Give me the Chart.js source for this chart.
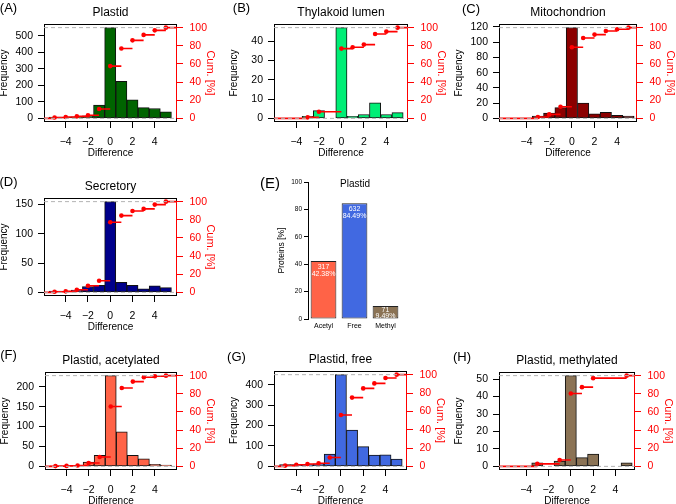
<!DOCTYPE html>
<html>
<head>
<meta charset="utf-8">
<script src="https://cdn.jsdelivr.net/npm/chart.js@4.4.1/dist/chart.umd.min.js"></script>
<style>
  body { margin: 0; background: #fff; width: 676px; height: 504px; position: relative; overflow: hidden;
         font-family: "Liberation Sans", Arial, sans-serif; }
  canvas { position: absolute; }
  .lbl { position: absolute; white-space: nowrap; line-height: 1; color: #000; transform: translate(-50%, -50%); }
</style>
</head>
<body>
<script>
// histogram bins (difference values)
const diffs = [-5, -4, -3, -2, -1, 0, 1, 2, 3, 4, 5];
const diffTicks = [-4, -2, 0, 2, 4];
const cumTicks = [0, 20, 40, 60, 80, 100];

// (A) Plastid
const plastidFreq = [8, 8, 10, 15, 80, 550, 225, 112, 65, 60, 40];
const plastidCumX = [-5, -4, -3, -2, -1, 0, 1, 2, 3, 4, 5];
const plastidCum = [1.0, 1.5, 2.2, 3.5, 10.3, 57.6, 77.0, 86.0, 92.0, 97.0, 100];
const plastidTicks = [0, 100, 200, 300, 400, 500];

// (B) Thylakoid lumen
const lumenFreq = [0, 0, 1, 4, 0, 47, 1, 2, 8, 2, 3];
const lumenCumX = [-3, -2, 0, 1, 2, 3, 4, 5];
const lumenCum = [1.1, 7.3, 76.9, 78.4, 81.3, 93.0, 95.6, 100];
const lumenTicks = [0, 10, 20, 30, 40];

// (C) Mitochondrion
const mitoFreq = [0, 0, 3, 7, 14, 119, 20, 6, 8, 4, 3];
const mitoCumX = [-3, -2, -1, 0, 1, 2, 3, 4, 5];
const mitoCum = [1.5, 4.4, 12.8, 78.4, 88.6, 92.3, 96.3, 98.2, 100];
const mitoTicks = [0, 20, 40, 60, 80, 100, 120];

// (D) Secretory
const secrFreq = [2, 2, 4, 10, 12, 155, 17, 12, 6, 11, 8];
const secrCumX = [-5, -4, -3, -2, -1, 0, 1, 2, 3, 4, 5];
const secrCum = [0.7, 1.1, 2.9, 7.3, 12.8, 77.3, 84.6, 89.7, 92.0, 96.7, 100];
const secrTicks = [0, 50, 100, 150];

// (F) Plastid, acetylated
const acetFreq = [1, 1, 2, 11, 28, 228, 87, 28, 19, 5, 3];
const acetCumX = [-5, -4, -3, -2, -1, 0, 1, 2, 3, 4, 5];
const acetCum = [0.3, 0.5, 1.0, 3.7, 10.3, 65.9, 86.4, 93.4, 98.2, 99.3, 100];
const acetTicks = [0, 50, 100, 150, 200];

// (G) Plastid, free
const freeFreq = [8, 8, 8, 12, 60, 450, 178, 97, 55, 57, 35];
const freeCumX = [-5, -4, -3, -2, -1, 0, 1, 2, 3, 4, 5];
const freeCum = [0.8, 1.7, 2.5, 3.4, 9.6, 56.0, 75.0, 85.0, 90.5, 96.3, 100];
const freeTicks = [0, 100, 200, 300, 400];

// (H) Plastid, methylated
const methFreq = [0, 0, 2, 0, 3, 52, 5, 7, 0, 0, 2];
const methCumX = [-3, -1, 0, 1, 2, 5];
const methCum = [2.8, 7.0, 80.3, 87.3, 97.2, 100];
const methTicks = [0, 10, 20, 30, 40, 50];

// (E) modification share in plastid
const modCats = ['Acetyl', 'Free', 'Methyl'];
const modCounts = [317, 632, 71];
const modPct = [42.38, 84.49, 9.49];
const modTicks = [0, 20, 40, 60, 80, 100];

const FONT = '"Liberation Sans", Arial, sans-serif';
Chart.defaults.font.family = FONT;

const panels = [
  { tag: '(A)', tagPos: [8.5, 7], title: 'Plastid', freq: plastidFreq, cumX: plastidCumX, cum: plastidCum, ticks: plastidTicks, color: '#006400', box: [44, 24, 177, 122], xr: [-5.95, 6.0] },
  { tag: '(B)', tagPos: [241.5, 7], title: 'Thylakoid lumen', freq: lumenFreq, cumX: lumenCumX, cum: lumenCum, ticks: lumenTicks, color: '#00EE76', box: [274, 24, 408, 122], xr: [-6.0, 5.93] },
  { tag: '(C)', tagPos: [471, 7.5], title: 'Mitochondrion', freq: mitoFreq, cumX: mitoCumX, cum: mitoCum, ticks: mitoTicks, color: '#8B0000', box: [499, 24, 637, 122], xr: [-6.43, 5.75] },
  { tag: '(D)', tagPos: [8.5, 181], title: 'Secretory', freq: secrFreq, cumX: secrCumX, cum: secrCum, ticks: secrTicks, color: '#00008B', box: [44, 198, 177, 296], xr: [-5.95, 6.0] },
  { tag: '(F)', tagPos: [8.5, 354], title: 'Plastid, acetylated', freq: acetFreq, cumX: acetCumX, cum: acetCum, ticks: acetTicks, color: '#FF6347', box: [45, 372, 177, 470], xr: [-5.95, 6.0] },
  { tag: '(G)', tagPos: [236.5, 355.5], title: 'Plastid, free', freq: freeFreq, cumX: freeCumX, cum: freeCum, ticks: freeTicks, color: '#4169E1', box: [274, 371, 407, 470], xr: [-6.0, 5.93] },
  { tag: '(H)', tagPos: [462, 355.5], title: 'Plastid, methylated', freq: methFreq, cumX: methCumX, cum: methCum, ticks: methTicks, color: '#8B7355', box: [499, 372, 635, 470], xr: [-6.43, 5.75] }
];

function addText(txt, x, y, size, color) {
  const d = document.createElement('div');
  d.className = 'lbl';
  d.textContent = txt;
  d.style.left = x + 'px';
  d.style.top = y + 'px';
  d.style.fontSize = size + 'px';
  if (color) d.style.color = color;
  document.body.appendChild(d);
}

function makeCanvas(left, top, w, h) {
  const c = document.createElement('canvas');
  c.width = w; c.height = h;
  c.style.left = left + 'px'; c.style.top = top + 'px';
  c.style.width = w + 'px'; c.style.height = h + 'px';
  document.body.appendChild(c);
  return c;
}

const minus = v => String(v).replace('-', '\u2212');

// black frame around the plot region, drawn under everything
const frame = {
  id: 'frame',
  beforeDraw(chart) {
    const a = chart.chartArea, ctx = chart.ctx;
    ctx.save();
    ctx.strokeStyle = '#000';
    ctx.lineWidth = 1;
    ctx.strokeRect(a.left + 0.5, a.top + 0.5, a.right - a.left - 1, a.bottom - a.top - 1);
    ctx.restore();
  },
  afterDraw(chart) {
    // red right axis line from 0 to 100 %
    const s = chart.scales.cum, ctx = chart.ctx;
    if (!s) return;
    ctx.save();
    ctx.strokeStyle = '#ff0000';
    ctx.lineWidth = 1;
    ctx.beginPath();
    ctx.moveTo(chart.chartArea.right - 0.5, s.getPixelForValue(0));
    ctx.lineTo(chart.chartArea.right - 0.5, s.getPixelForValue(100));
    ctx.stroke();
    ctx.restore();
  }
};

function histChart(p) {
  const [L, T, R, B] = p.box;
  const c = makeCanvas(L - 45, T - 14, R - L + 85, B - T + 52);
  const M = Math.max(...p.freq);
  const [x0, x1] = p.xr;

  // ecdf horizontal steps, broken with null gaps
  const steps = [{ x: x0, y: 0 }, { x: p.cumX[0], y: 0 }, { x: p.cumX[0], y: null }];
  p.cumX.forEach((x, i) => {
    const next = i < p.cumX.length - 1 ? p.cumX[i + 1] : x1;
    steps.push({ x: x, y: p.cum[i] }, { x: next, y: p.cum[i] }, { x: next, y: null });
  });

  new Chart(c, {
    type: 'bar',
    data: {
      datasets: [
        { type: 'line', yAxisID: 'cum', order: 0,
          data: [{ x: x0, y: 0 }, { x: x1, y: 0 }, { x: x1, y: null }, { x: x0, y: 100 }, { x: x1, y: 100 }],
          borderColor: '#b3b3b3', borderWidth: 1, borderDash: [4, 3], pointRadius: 0, spanGaps: false },
        { type: 'line', yAxisID: 'cum', order: 1,
          data: p.cumX.map((x, i) => ({ x: x, y: p.cum[i] })),
          showLine: false, pointRadius: 2.3, pointBackgroundColor: '#ff0000', pointBorderWidth: 0 },
        { type: 'line', yAxisID: 'cum', order: 2, data: steps,
          borderColor: '#ff0000', borderWidth: 1.6, pointRadius: 0, spanGaps: false },
        { type: 'bar', yAxisID: 'y', order: 3,
          data: diffs.map((d, i) => ({ x: d, y: p.freq[i] })),
          backgroundColor: p.color, borderColor: '#111', borderWidth: 1, borderSkipped: false,
          barPercentage: 1, categoryPercentage: 1 }
      ]
    },
    options: {
      responsive: false,
      animation: false,
      layout: { padding: { top: 14, left: 0, right: 0, bottom: 0 } },
      plugins: { legend: { display: false }, tooltip: { enabled: false } },
      scales: {
        x: {
          type: 'linear', min: x0, max: x1, offset: false,
          afterBuildTicks: s => { s.ticks = diffTicks.map(v => ({ value: v })); },
          afterFit: s => { s.height = 38; },
          grid: { offset: false, drawOnChartArea: false, tickLength: 6, color: '#000' },
          border: { display: false },
          ticks: { color: '#000', font: { size: 10.5 }, padding: 8, maxRotation: 0, autoSkip: false, callback: minus },
          title: { display: true, text: 'Difference', color: '#000', font: { size: 10, lineHeight: 1 }, padding: { top: 0, bottom: 2 } }
        },
        y: {
          type: 'linear', position: 'left', min: -0.04 * M, max: 1.04 * M,
          afterBuildTicks: s => { s.ticks = p.ticks.map(v => ({ value: v })); },
          afterFit: s => { s.width = 45; },
          grid: { drawOnChartArea: false, tickLength: 6, color: '#000' },
          border: { display: false },
          ticks: { color: '#000', font: { size: 10.5 }, padding: 5 },
          title: { display: true, text: 'Frequency', color: '#000', font: { size: 10, lineHeight: 1 }, padding: { top: 0, bottom: 0 } }
        },
        cum: {
          type: 'linear', position: 'right', min: -4, max: 104,
          afterBuildTicks: s => { s.ticks = cumTicks.map(v => ({ value: v })); },
          afterFit: s => { s.width = 40; },
          grid: { drawOnChartArea: false, tickLength: 6, color: '#ff0000' },
          border: { display: false },
          ticks: { color: '#ff0000', font: { size: 10.5 }, padding: 6.5 },
          title: { display: true, text: 'Cum. [%]', color: '#ff0000', font: { size: 11, lineHeight: 1 }, padding: { top: 1.8, bottom: 0 } }
        }
      }
    },
    plugins: [frame]
  });

  addText(p.title, (L + R) / 2, T - 12, 12);
  addText(p.tag, p.tagPos[0], p.tagPos[1], 13);
}

panels.forEach(histChart);

// (E) bar chart of modification classes
const barLabels = {
  id: 'barLabels',
  afterDatasetsDraw(chart) {
    const ctx = chart.ctx;
    ctx.save();
    ctx.fillStyle = '#fff';
    ctx.font = '7px ' + FONT;
    ctx.textAlign = 'center';
    ctx.textBaseline = 'middle';
    chart.getDatasetMeta(0).data.forEach((bar, i) => {
      // short bars get their two lines packed tighter
      const short = bar.base - bar.y < 20;
      const y1 = bar.y + (short ? 4.4 : 6);
      const y2 = y1 + (short ? 5.4 : 7);
      ctx.fillText(String(modCounts[i]), bar.x, y1);
      ctx.fillText(modPct[i].toFixed(2) + '%', bar.x, y2);
    });
    ctx.restore();
  }
};

const cE = makeCanvas(268, 172, 140, 162);
new Chart(cE, {
  type: 'bar',
  data: {
    labels: modCats,
    datasets: [{
      data: modPct,
      backgroundColor: ['#FF6347', '#4169E1', '#8B7355'],
      borderColor: '#222', borderWidth: 1, borderSkipped: false,
      barPercentage: 0.83, categoryPercentage: 1
    }]
  },
  options: {
    responsive: false,
    animation: false,
    layout: { padding: { top: 10, right: 7, left: 0, bottom: 0 } },
    plugins: { legend: { display: false }, tooltip: { enabled: false } },
    scales: {
      x: {
        grid: { display: false, drawTicks: false }, border: { display: false },
        afterFit: s => { s.height = 15; },
        ticks: { color: '#000', font: { size: 7 }, padding: 2.5, maxRotation: 0 }
      },
      y: {
        min: 0, max: 100,
        afterBuildTicks: s => { s.ticks = modTicks.map(v => ({ value: v })); },
        afterFit: s => { s.width = 40; },
        grid: { drawOnChartArea: false, tickLength: 4, color: '#000' },
        border: { display: true, color: '#000' },
        ticks: { color: '#000', font: { size: 6.5 }, padding: 2 },
        title: { display: true, text: 'Proteins [%]', color: '#000', font: { size: 8.5, lineHeight: 1 }, padding: { top: 9.5, bottom: 0 } }
      }
    }
  },
  plugins: [barLabels]
});
addText('Plastid', 355, 184, 10);
addText('(E)', 270, 181.7, 15);
</script>
</body>
</html>
